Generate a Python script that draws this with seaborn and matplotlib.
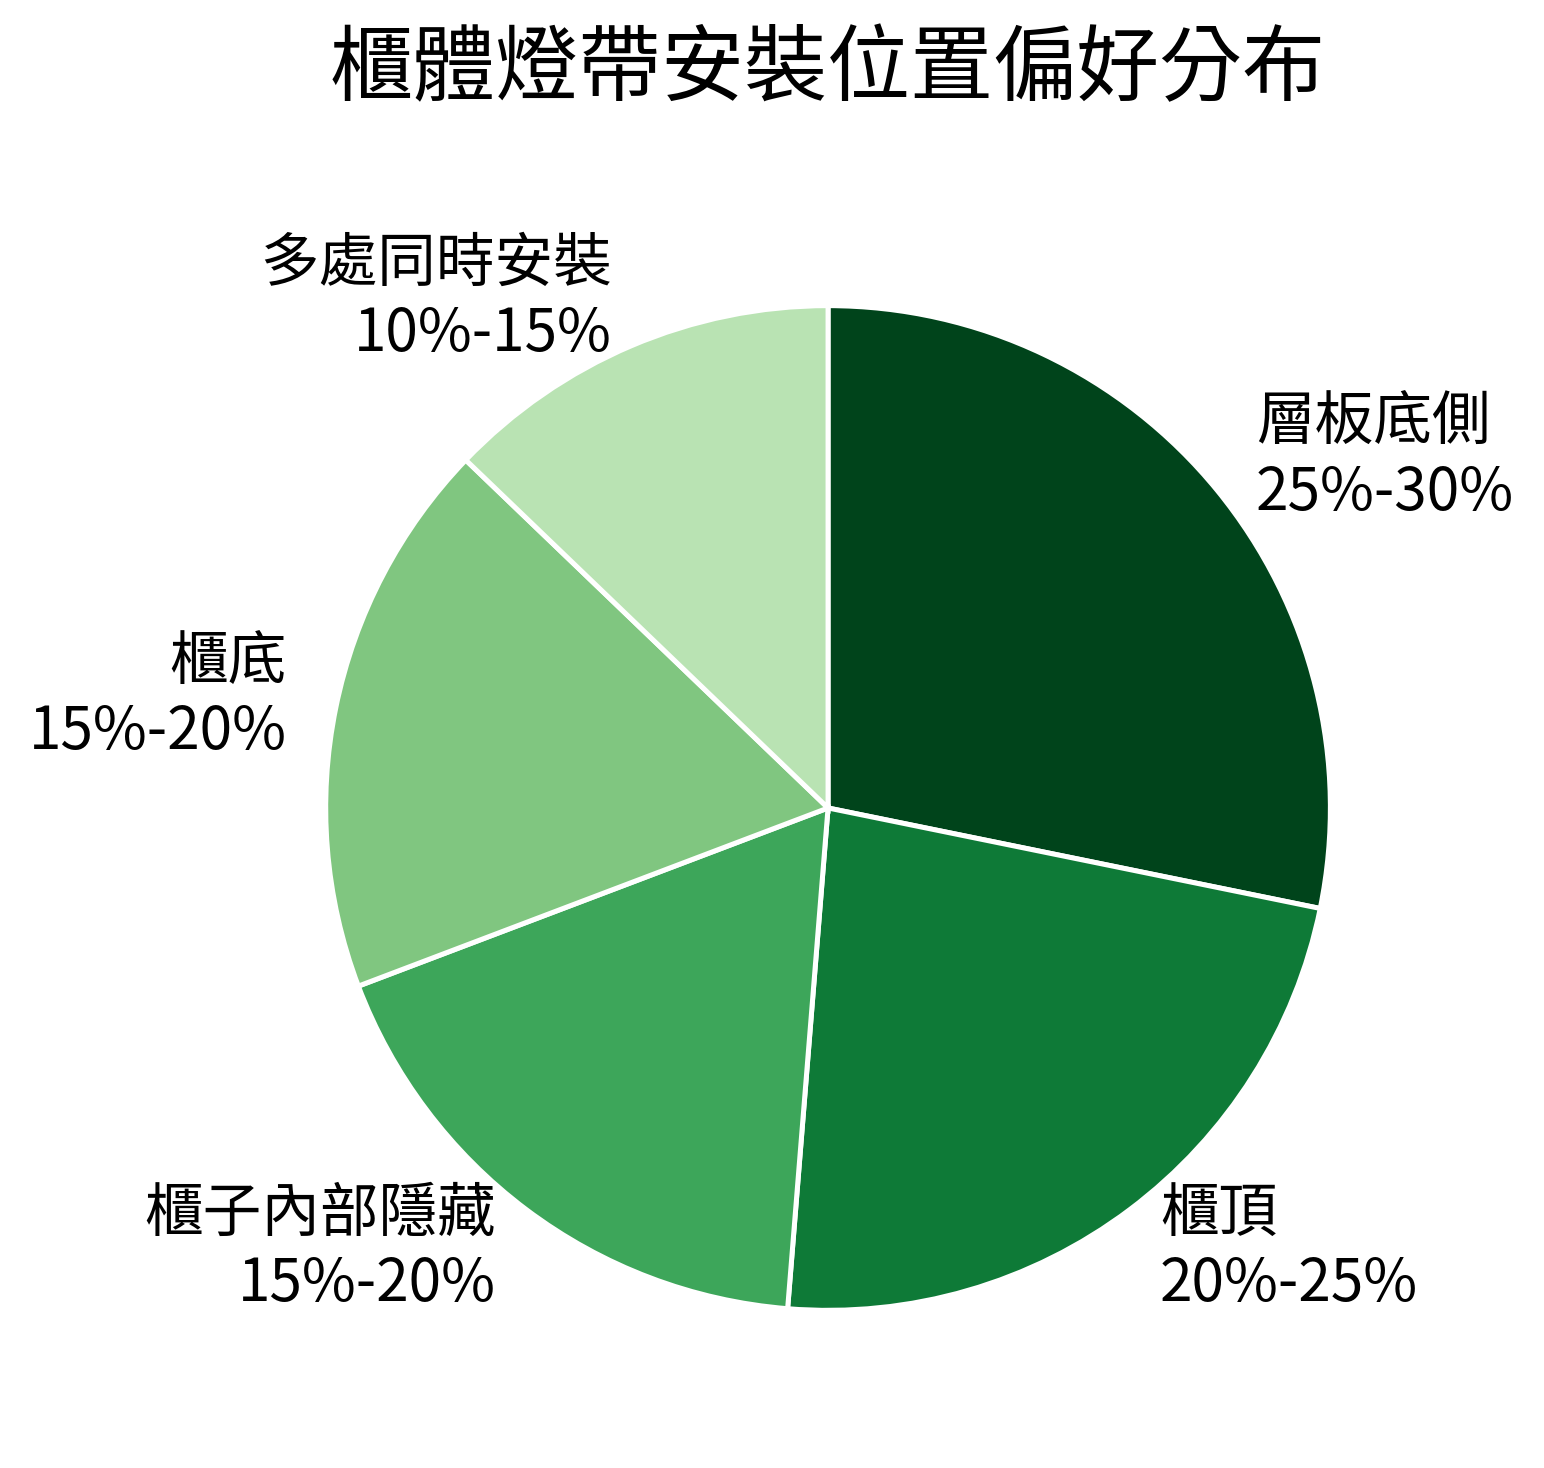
import matplotlib
matplotlib.use("Agg")
import matplotlib.pyplot as plt
import seaborn as sns

# Data (midpoints of the ranges)
labels = ["層板底側", "櫃頂", "櫃子內部隱藏", "櫃底", "多處同時安裝"]
ranges = ["25%-30%", "20%-25%", "15%-20%", "15%-20%", "10%-15%"]
values = [27.5, 22.5, 17.5, 17.5, 12.5]
colors = ["#00441b", "#0e7a37", "#3da65a", "#80c680", "#b9e3b3"]

sns.set_theme(style="white")
plt.rcParams["font.family"] = ["Noto Sans CJK TC", "DejaVu Sans"]

fig = plt.figure(figsize=(7.72, 7.34), dpi=200)
ax = fig.add_axes([0.1153, 0.0068, 0.842, 0.8856])

pie_labels = [f"{l}\n{r}" for l, r in zip(labels, ranges)]
wedges, texts = ax.pie(values, labels=pie_labels, colors=colors,
                       startangle=90, counterclock=False,
                       labeldistance=1.1,
                       wedgeprops=dict(edgecolor="white", linewidth=1.8),
                       textprops=dict(fontsize=21.1, color="black"))
ax.set_xlim(-1.294, 1.294)
ax.set_ylim(-1.294, 1.294)
ax.set_aspect("equal")
ax.axis("off")

fig.text(0.536, 0.952, "櫃體燈帶安裝位置偏好分布", ha="center", va="center",
         fontsize=29.9, color="black")

fig.savefig("out.png", dpi=200, facecolor="white")
